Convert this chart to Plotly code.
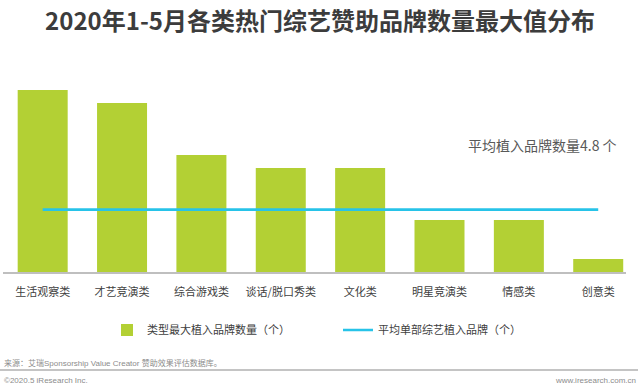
import plotly.graph_objects as go

categories = ["生活观察类", "才艺竞演类", "综合游戏类", "谈话/脱口秀类", "文化类", "明星竞演类", "情感类", "创意类"]
max_brands = [14, 13, 9, 8, 8, 4, 4, 1]
avg_brands = [4.8] * len(categories)

bar_name = "类型最大植入品牌数量（个）"
line_name = "平均单部综艺植入品牌（个）"
title_text = "2020年1-5月各类热门综艺赞助品牌数量最大值分布"
avg_label = "平均植入品牌数量4.8 个"
source_text = "来源：艾瑞Sponsorship Value Creator 赞助效果评估数据库。"
copyright_text = "©2020.5 iResearch Inc."
site_text = "www.iresearch.com.cn"

GREEN = "#B3D034"
CYAN = "#27C3E8"
CJK = "Noto Sans CJK SC"

W, H = 640, 391
ML, MR, MT, MB = 3, 14, 77, 119
PW = W - ML - MR
PH = H - MT - MB


def px(x):
    return (x - ML) / PW


def py(y):
    return (H - MB - y) / PH


fig = go.Figure()
fig.add_trace(go.Bar(
    x=categories, y=max_brands, name=bar_name,
    marker=dict(color=GREEN, line=dict(width=0)),
))
fig.add_trace(go.Scatter(
    x=categories, y=avg_brands, name=line_name, mode="lines",
    line=dict(color=CYAN, width=2.6),
))

fig.update_layout(
    width=W, height=H,
    paper_bgcolor="white", plot_bgcolor="white",
    margin=dict(l=ML, r=MR, t=MT, b=MB),
    bargap=0.37,
    font=dict(family=CJK, color="#404040", size=11),
    title=dict(text=f"<b>{title_text}</b>", x=0.5, xanchor="center",
               y=1 - 22 / H, yanchor="middle", yref="container",
               font=dict(family=CJK, size=24, color="#3C3C3C")),
    xaxis=dict(range=[-0.5, 7.35], showgrid=False, zeroline=False,
               showline=True, linecolor="#BFBFBF", linewidth=1.5,
               ticks="", tickfont=dict(size=11, color="#404040"),
               ticklabelstandoff=9),
    yaxis=dict(range=[0, 15], visible=False, showgrid=False, zeroline=False),
    legend=dict(orientation="h", xref="container", yref="container",
                x=107 / W, xanchor="left", y=1 - 330 / H, yanchor="middle",
                font=dict(size=11, color="#404040"), entrywidth=186,
                bgcolor="rgba(0,0,0,0)"),
    showlegend=True,
)

fig.add_annotation(text=avg_label, xref="paper", yref="paper",
                   x=px(619), xanchor="right", y=py(145), yanchor="middle",
                   showarrow=False, font=dict(size=14, color="#595959"))

for txt, x, y, xa in [(source_text, 2, 363, "left"),
                      (copyright_text, 2, 380, "left"),
                      (site_text, 638, 380, "right")]:
    fig.add_annotation(text=txt, xref="paper", yref="paper",
                       x=px(x), xanchor=xa, y=py(y), yanchor="middle",
                       showarrow=False,
                       font=dict(family="Liberation Sans, " + CJK, size=8, color="#8C8C8C"))

fig.add_shape(type="line", xref="paper", yref="paper",
              x0=px(0), x1=px(638), y0=py(370), y1=py(370),
              line=dict(color="#B0B0B0", width=1.5))

fig.write_html("out.html",
               config={"displayModeBar": False},
               post_script="document.body.style.margin='0';document.body.style.overflow='hidden';")
